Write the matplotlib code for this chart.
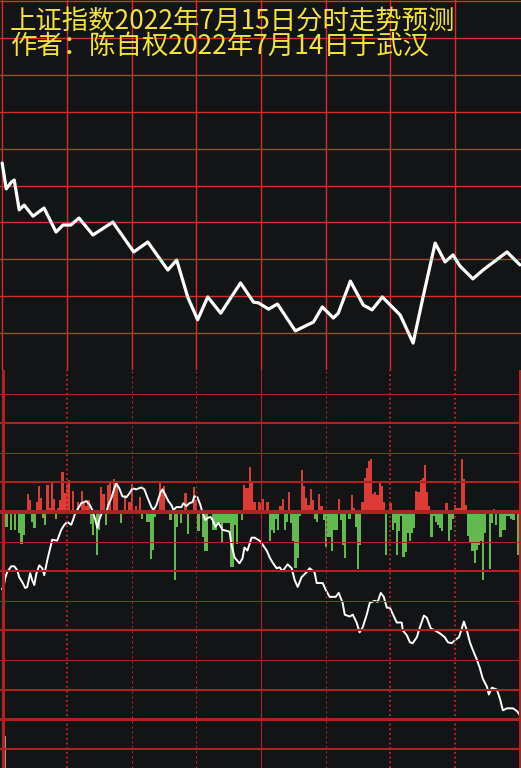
import numpy as np
import matplotlib
matplotlib.use('Agg')
import matplotlib.pyplot as plt

plt.rcParams['font.family'] = ['Noto Sans CJK SC', 'DejaVu Sans']
plt.rcParams['lines.scale_dashes'] = False

title_lines = ['上证指数2022年7月15日分时走势预测', '作者：陈自权2022年7月14日于武汉']

# top panel: forecast curve, minutes after open vs level (grid rows)
pred_t = [0, 1.9, 4.2, 5.6, 7.9, 10.2, 14.3, 19.4, 25.0, 28.2, 31.9, 35.6, 42.1, 51.3,
          61.0, 67.5, 76.8, 80.9, 86.0, 90.6, 95.3, 101.3, 110.5, 116.5, 118.8, 123.5,
          127.6, 135.9, 144.3, 148.4, 153.5, 155.8, 161.4, 167.4, 171.5, 176.2, 184.5,
          190.5, 195.1, 200.7, 205.3, 209.0, 212.2, 218.2, 222.9, 234.0, 240]
pred_v = [5.61, 4.91, 5.09, 5.15, 4.34, 4.47, 4.17, 4.39, 3.74, 3.93, 3.93, 4.12, 3.66, 4.01,
          3.20, 3.47, 2.71, 2.98, 1.98, 1.36, 1.98, 1.54, 2.36, 1.84, 1.82, 1.65,
          1.79, 1.06, 1.30, 1.71, 1.41, 1.54, 2.41, 1.76, 1.63, 1.98, 1.49,
          0.73, 1.98, 3.44, 2.93, 3.12, 2.82, 2.47, 2.71, 3.20, 2.85]

# bottom panel: one bar per minute (red up, green down)
bar_values = [
    0, -3, -15, 0, -18, 0, -18, 0, -21, -32, -23, 0, 18, 12, -10, -16, 10, 26, 14, -6,
    -13, 27, 4, 31, 13, -7, 4, 12, 41, 19, 27, 32, 0, 21, 0, 10, 0, 21, 9, 6,
    12, -12, -23, 0, -44, -18, 25, 18, -13, 27, 30, 0, 33, 29, 0, -11, 0, 17, 0, 10,
    28, 0, 6, 0, 15, -7, 0, -10, -10, -48, -38, -5, 0, 31, 23, 26, 0, 0, -8, 3,
    -69, -15, 0, -11, 0, 19, -22, 0, 0, 25, 12, -19, 0, -25, -39, -39, 0, 0, -18, -18,
    -13, -11, -30, -11, -11, -11, -56, -56, -13, -32, 0, -8, 27, 24, 24, 46, 29, 10, 0, 10,
    9, 13, -2, 10, -29, -18, -21, -7, -18, 6, 13, -18, -10, 20, -11, -29, -57, -47, -4, 43,
    26, 14, 7, 23, 12, -7, -10, 18, 6, -8, -35, -25, -25, -39, -18, -18, 13, -8, -33, -47,
    0, -7, 17, 4, -15, -58, -33, 10, 35, 45, 52, 54, 18, 20, 17, 29, 26, 10, -44, 0,
    9, -18, -11, -44, -19, -4, -46, -41, -21, -29, -21, -16, 21, 20, 32, 35, 48, 20, 6, -25,
    -4, -10, -13, -16, -19, 0, 9, -29, -18, -7, 7, 4, 4, 54, 34, 7, -24, -30, -39, -52,
    -38, -33, -29, -69, -21, 0, -58, -11, 3, -13, 0, -25, -18, -18, -4, -4, -7, -8, -2, -44,
]

# bottom panel: actual price line
real_t = [0, 0.9, 1.4, 2.3, 4.2, 5.6, 7.0, 7.9, 9.3, 10.7, 11.6, 13.0, 13.9, 14.9, 15.8,
          17.2, 18.6, 19.5, 20.9, 22.3, 23.2, 25.5, 27.4, 28.8, 30.2, 32.0, 33.0, 33.9,
          35.3, 36.7, 39.0, 40.4, 41.8, 43.2, 44.1, 45.0, 46.4, 48.3, 49.2, 50.6, 52.0,
          52.9, 54.3, 55.7, 57.6, 59.0, 60.4, 62.2, 64.5, 65.9, 67.3, 69.2, 70.1, 71.5,
          73.4, 74.3, 75.7, 77.1, 78.5, 79.4, 80.8, 83.1, 84.0, 85.4, 86.8, 88.2, 89.1,
          90.5, 91.9, 92.9, 94.2, 95.2, 96.6, 97.5, 98.9, 100.3, 102.1, 104.0, 105.4,
          106.3, 107.7, 110.0, 111.4, 112.3, 113.7, 115.6, 117.0, 119.3, 120.7, 122.6,
          124.0, 125.3, 127.2, 128.6, 130.0, 132.3, 134.2, 135.6, 137.0, 138.8, 141.1,
          142.5, 144.8, 145.8, 148.6, 150.0, 151.8, 154.6, 156.0, 157.8, 158.8, 161.1,
          162.5, 164.3, 165.7, 167.1, 169.0, 170.4, 172.7, 174.1, 175.5, 176.9, 178.3,
          179.7, 182.9, 185.2, 185.7, 187.6, 189.0, 190.3, 192.2, 193.6, 195.5, 196.8,
          198.7, 200.6, 202.9, 205.2, 206.6, 208.4, 209.8, 211.7, 213.1, 214.0, 215.4,
          216.8, 218.2, 220.1, 221.4, 222.8, 224.7, 225.6, 227.0, 229.3, 230.7, 232.1,
          234.0, 236.8, 238.7, 240]
real_v = [-78, -73, -67, -61, -55, -55, -59, -66, -71, -77, -76, -62, -69, -74, -63,
          -54, -57, -64, -49, -36, -28, -29, -18, -13, -10, -13, -7, -1,
          4, 9, 11, 8, 2, -8, -16, -8, 0, 0, 7, 14, 24,
          29, 24, 16, 15, 19, 24, 23, 25, 23, 15, 5, 2, 7,
          20, 23, 17, 11, 7, 2, 5, 5, 9, 6, 9, 10, 16,
          15, 7, -1, -8, -6, -5, -8, -15, -11, -18, -19, -20,
          -33, -46, -52, -47, -36, -39, -26, -26, -29, -33, -39,
          -46, -51, -57, -56, -60, -53, -57, -69, -76, -66, -61,
          -57, -61, -72, -72, -79, -86, -86, -82, -92, -104, -106,
          -104, -112, -122, -117, -104, -92, -90, -91, -82, -86, -97,
          -97, -112, -112, -120, -125, -132, -133, -127, -117, -105, -107,
          -118, -120, -123, -127, -132, -133, -130, -127, -118, -111, -120,
          -132, -140, -150, -158, -169, -177, -185, -178, -180, -189, -201,
          -199, -199, -202, -206]

mark_t = [1.1]
mark_top = [-227]

bg = '#131416'
red_top = '#d62d2d'
red_bot = '#ad2222'
up_color = '#dd3b36'
down_color = '#64b850'
text_color = '#f2e33c'

fig = plt.figure(figsize=(5.21, 7.68), dpi=100)
fig.patch.set_facecolor(bg)

# ---- top panel ----
ax1 = fig.add_axes([0, 398 / 768, 1, 370 / 768])
ax1.set_facecolor(bg)
ax1.set_xlim(-1, 240.5)
ax1.set_ylim(0, 10.03)
for v in range(1, 11):
    ax1.axhline(v, color=red_top, lw=1.0, zorder=1)
for t in range(0, 240, 30):
    ax1.axvline(t, color=red_top, lw=1.0, zorder=1)
ax1.plot(pred_t, pred_v, color='white', lw=2.3, solid_joinstyle='round',
         solid_capstyle='round', zorder=3)
ax1.axis('off')

# ---- bottom panel ----
ax2 = fig.add_axes([0, 0, 1, 398 / 768])
ax2.set_facecolor(bg)
ax2.set_xlim(-1, 240.5)
ax2.set_ylim(-259.5, 144)

minutes = np.arange(len(bar_values))
vals = np.array(bar_values)
colors = [up_color if v > 0 else down_color for v in vals]
ax2.bar(minutes, vals, width=1.0, color=colors, linewidth=0, zorder=2)

ax2.plot(real_t, real_v, color='white', lw=1.4, zorder=3)
ax2.vlines(mark_t, -259.5, mark_top, color='#b8b8b8', lw=1.2, zorder=3)

h_widths = {4: 0.75, 3: 1.5, 2: 0.75, 1: 1.5, 0: 2.9, -1: 0.75, -2: 1.5,
            -3: 0.75, -4: 1.5, -5: 0.75, -6: 1.5, -7: 2.2, -8: 1.5}
for k, w in h_widths.items():
    ax2.axhline(k * 30, color=red_bot, lw=w, zorder=4)

thick_dot = (0, (1.4, 2.0))
thin_dash = (0, (1.6, 2.0))
v_styles = {30: (1.5, thick_dot), 60: (0.75, thin_dash), 90: (0.75, thin_dash),
            120: (0.75, '-'), 150: (0.75, thin_dash), 180: (1.5, thick_dot),
            210: (1.5, thick_dot)}
for t, (w, ls) in v_styles.items():
    ax2.axvline(t, color=red_bot, lw=w, linestyle=ls, zorder=4)
ax2.axvline(0.4, color=red_bot, lw=2.2, zorder=4)
ax2.axvline(240.1, color=red_bot, lw=2.2, zorder=4)
ax2.axis('off')

fig.text(10 / 521, 1 - 21 / 768, title_lines[0], color=text_color, fontsize=19,
         ha='left', va='center')
fig.text(10 / 521, 1 - 46 / 768, title_lines[1], color=text_color, fontsize=19,
         ha='left', va='center')

fig.savefig('out.png', dpi=100, facecolor=bg)
